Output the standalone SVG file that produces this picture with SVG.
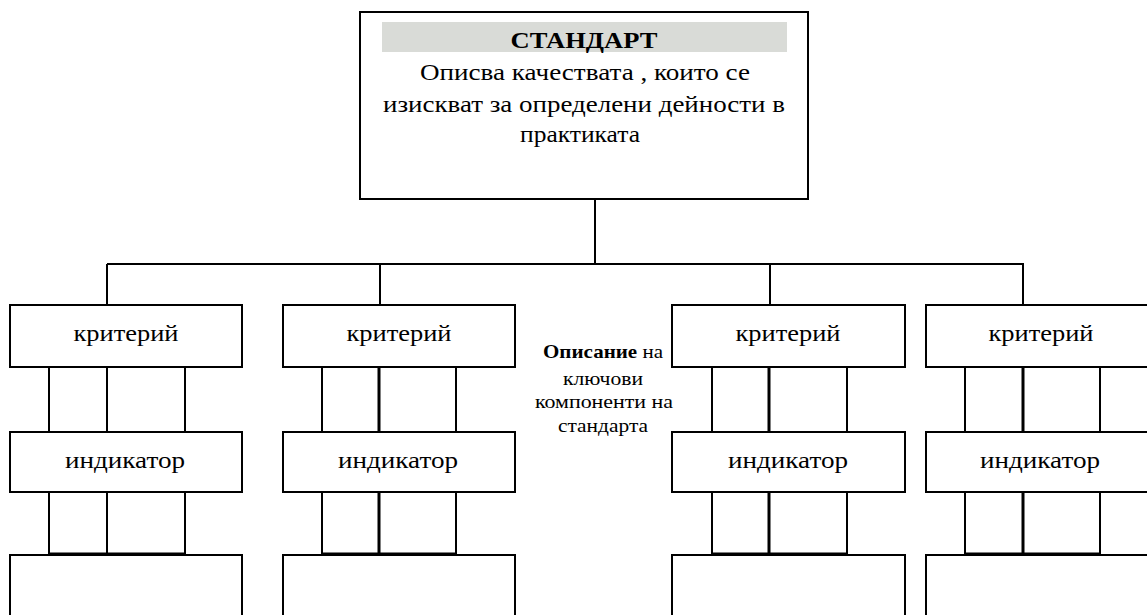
<svg xmlns="http://www.w3.org/2000/svg" width="1147" height="615" viewBox="0 0 1147 615">
<style>
.box{fill:#fff;stroke:#000;stroke-width:2}
.ln{stroke:#000;stroke-width:2;fill:none}
.thk{stroke:#000;stroke-width:3;fill:none}
.t{font-family:"Liberation Serif",serif;fill:#000;text-anchor:middle}
.lbl{font-size:24px}
.mid{font-size:19px}
</style>
<rect width="1147" height="615" fill="#fff"/>
<g id="standard">
<rect class="box" x="360" y="12" width="448" height="187"/>
<rect x="382" y="22" width="405" height="30" fill="#d9dbd7"/>
<text class="t" x="584" y="48" font-size="24" font-weight="bold" textLength="147" lengthAdjust="spacingAndGlyphs">СТАНДАРТ</text>
<text class="t lbl" x="585" y="80" textLength="330" lengthAdjust="spacingAndGlyphs">Описва качествата , които се</text>
<text class="t lbl" x="584" y="112" textLength="402" lengthAdjust="spacingAndGlyphs">изискват за определени дейности в</text>
<text class="t lbl" x="580" y="142" textLength="120" lengthAdjust="spacingAndGlyphs">практиката</text>
</g>
<g id="connectors">
<line class="ln" x1="595" y1="199" x2="595" y2="264"/>
<line class="ln" x1="107" y1="264" x2="1024" y2="264"/>
<line class="ln" x1="107" y1="264" x2="107" y2="305"/>
<line class="ln" x1="380" y1="264" x2="380" y2="305"/>
<line class="ln" x1="770" y1="264" x2="770" y2="305"/>
<line class="ln" x1="1023" y1="264" x2="1023" y2="305"/>
<path class="ln" d="M49 367V432M107 367V432M185 367V432M49 492V555M107 492V555M185 492V555"/>
<line class="thk" x1="49" y1="554" x2="185" y2="554"/>
<path class="ln" d="M322 367V432M456 367V432M322 492V555M456 492V555"/>
<path class="thk" d="M379 367V432M379 492V555"/>
<line class="thk" x1="322" y1="554" x2="456" y2="554"/>
<path class="ln" d="M712 367V432M847 367V432M712 492V555M847 492V555"/>
<path class="thk" d="M769 367V432M769 492V555"/>
<line class="thk" x1="712" y1="554" x2="847" y2="554"/>
<path class="ln" d="M965 367V432M1100 367V432M965 492V555M1100 492V555"/>
<path class="thk" d="M1023 367V432M1023 492V555"/>
<line class="thk" x1="965" y1="554" x2="1100" y2="554"/>
</g>
<g id="col1">
<rect class="box" x="10" y="305" width="232" height="62"/>
<text class="t lbl" x="126" y="341" textLength="105" lengthAdjust="spacingAndGlyphs">критерий</text>
<rect class="box" x="10" y="432" width="232" height="60"/>
<text class="t lbl" x="125" y="468" textLength="120" lengthAdjust="spacingAndGlyphs">индикатор</text>
<rect class="box" x="10" y="555" width="232" height="80"/>
</g>
<g id="col2">
<rect class="box" x="283" y="305" width="232" height="62"/>
<text class="t lbl" x="399" y="341" textLength="105" lengthAdjust="spacingAndGlyphs">критерий</text>
<rect class="box" x="283" y="432" width="232" height="60"/>
<text class="t lbl" x="398" y="468" textLength="120" lengthAdjust="spacingAndGlyphs">индикатор</text>
<rect class="box" x="283" y="555" width="232" height="80"/>
</g>
<g id="col3">
<rect class="box" x="672" y="305" width="233" height="62"/>
<text class="t lbl" x="788" y="341" textLength="105" lengthAdjust="spacingAndGlyphs">критерий</text>
<rect class="box" x="672" y="432" width="233" height="60"/>
<text class="t lbl" x="788" y="468" textLength="120" lengthAdjust="spacingAndGlyphs">индикатор</text>
<rect class="box" x="672" y="555" width="233" height="80"/>
</g>
<g id="col4">
<rect class="box" x="926" y="305" width="240" height="62"/>
<text class="t lbl" x="1041" y="341" textLength="105" lengthAdjust="spacingAndGlyphs">критерий</text>
<rect class="box" x="926" y="432" width="240" height="60"/>
<text class="t lbl" x="1040" y="468" textLength="120" lengthAdjust="spacingAndGlyphs">индикатор</text>
<rect class="box" x="926" y="555" width="240" height="80"/>
</g>
<g id="note">
<text class="t mid" x="603" y="358" textLength="120" lengthAdjust="spacingAndGlyphs"><tspan font-weight="bold">Описание</tspan> на</text>
<text class="t mid" x="603" y="385" textLength="80" lengthAdjust="spacingAndGlyphs">ключови</text>
<text class="t mid" x="604" y="408" textLength="138" lengthAdjust="spacingAndGlyphs">компоненти на</text>
<text class="t mid" x="603" y="432" textLength="90" lengthAdjust="spacingAndGlyphs">стандарта</text>
</g>
</svg>
